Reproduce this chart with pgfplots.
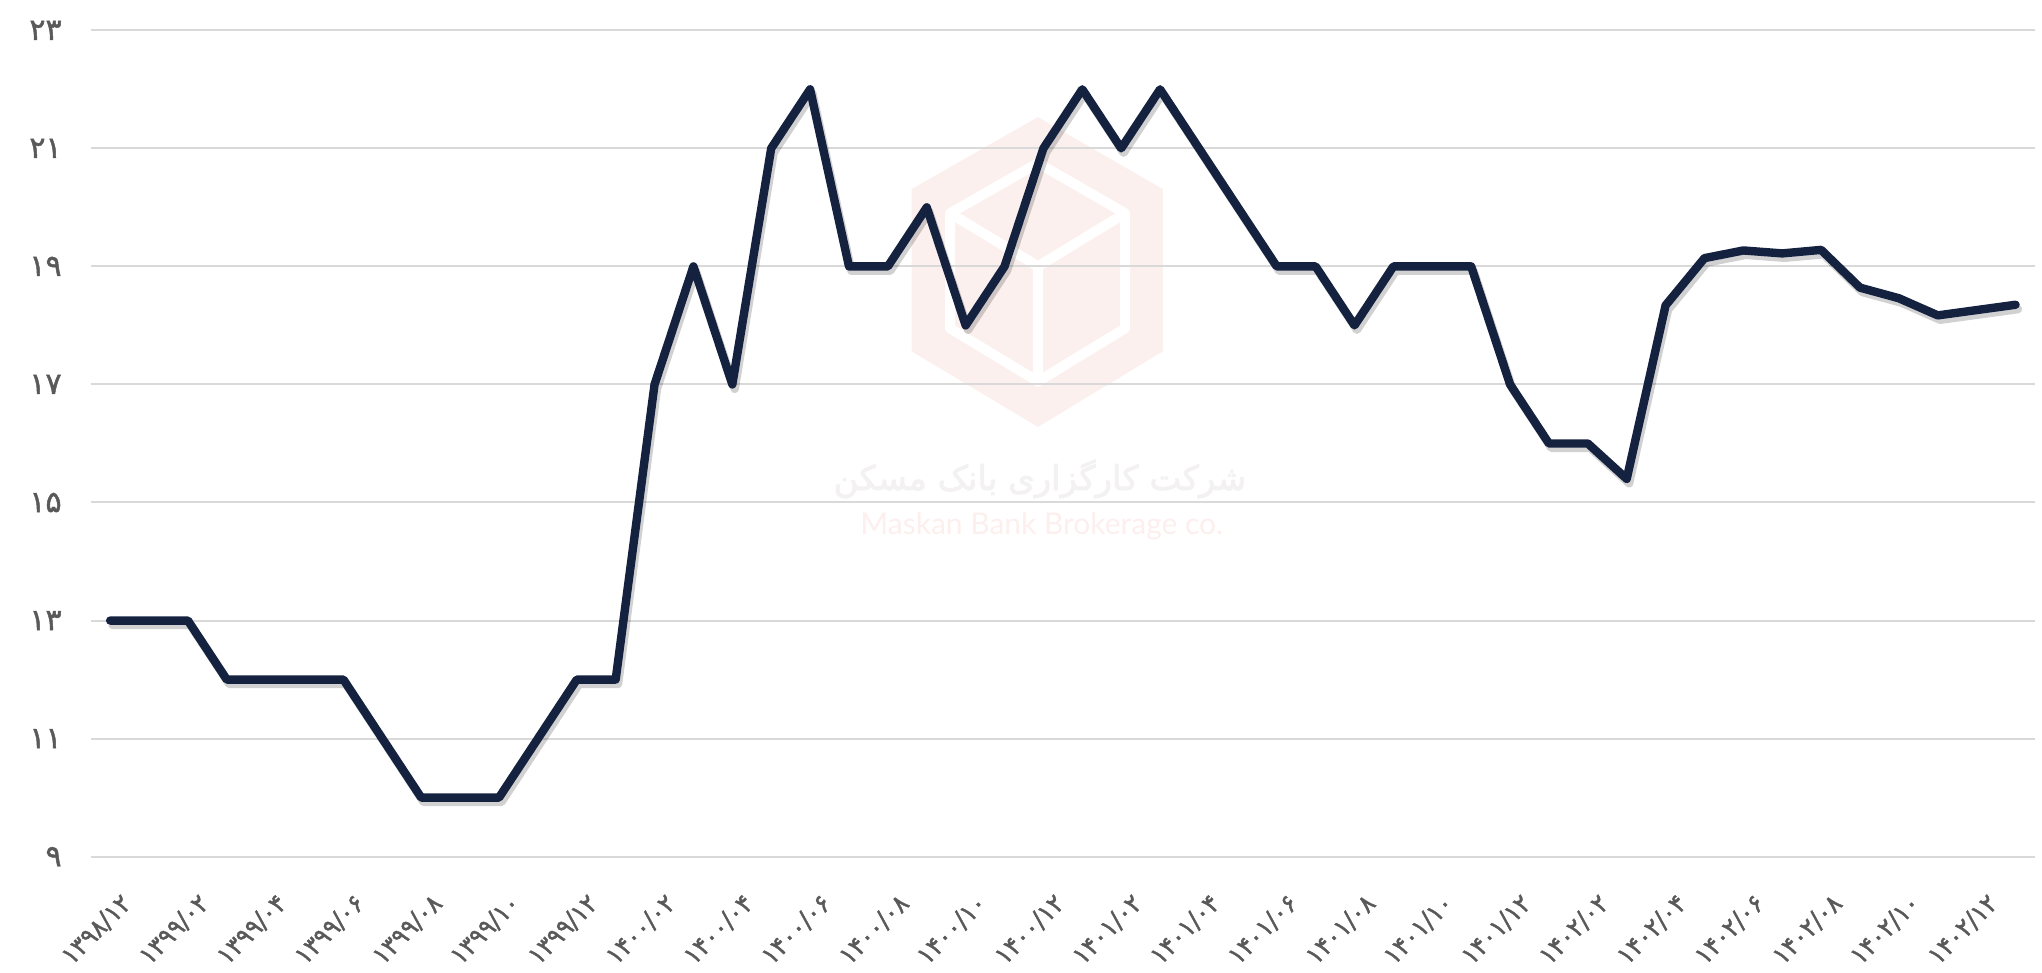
\documentclass[border=0pt]{standalone}
\usepackage{fontspec}
\usepackage{graphicx}
\usepackage{pgfplots}
\usepackage{pgfplotstable}
\pgfplotsset{compat=1.18}
\TeXXeTstate=1
\newfontfamily\fab[Script=Arabic,FakeBold=1.6]{DejaVu Sans}
\newfontfamily\wmfa[Script=Arabic,FakeBold=2.5]{DejaVu Sans}
\newfontfamily\wmen{Lato}
\newcommand{\xl}[1]{\resizebox*{43pt}{10.5pt}{\fab #1}}
\definecolor{linec}{RGB}{21,34,63}
\definecolor{labc}{RGB}{89,89,89}
\definecolor{gridc}{RGB}{217,217,217}
\definecolor{logoc}{RGB}{251,240,238}
\definecolor{wmfac}{RGB}{243,241,241}
\definecolor{wmenc}{RGB}{252,239,237}

\pgfplotstableread{
x y
0 13
1 13
2 13
3 12
4 12
5 12
6 12
7 11
8 10
9 10
10 10
11 11
12 12
13 12
14 17
15 19
16 17
17 21
18 22
19 19
20 19
21 20
22 18
23 19
24 21
25 22
26 21
27 22
28 21
29 20
30 19
31 19
32 18
33 19
34 19
35 19
36 17
37 16
38 16
39 15.4
40 18.34
41 19.14
42 19.27
43 19.22
44 19.28
45 18.64
46 18.46
47 18.17
48 18.26
49 18.35
}\data

\begin{document}
\begin{tikzpicture}
\begin{axis}[name=ax, set layers,
  scale only axis, width=972.2pt, height=413.2pt,
  xmin=-0.5, xmax=49.5, ymin=9, ymax=23,
  axis line style={draw=none}, tick style={draw=none},
  ymajorgrids, major grid style={gridc, line width=1pt},
  ytick={9,11,...,23},
  yticklabels={۹,۱۱,۱۳,۱۵,۱۷,۱۹,۲۱,۲۳},
  xtick={0,2,...,48},
  xticklabels={\xl{۱۳۹۸/۱۲},\xl{۱۳۹۹/۰۲},\xl{۱۳۹۹/۰۴},\xl{۱۳۹۹/۰۶},\xl{۱۳۹۹/۰۸},\xl{۱۳۹۹/۱۰},\xl{۱۳۹۹/۱۲},\xl{۱۴۰۰/۰۲},\xl{۱۴۰۰/۰۴},\xl{۱۴۰۰/۰۶},\xl{۱۴۰۰/۰۸},\xl{۱۴۰۰/۱۰},\xl{۱۴۰۰/۱۲},\xl{۱۴۰۱/۰۲},\xl{۱۴۰۱/۰۴},\xl{۱۴۰۱/۰۶},\xl{۱۴۰۱/۰۸},\xl{۱۴۰۱/۱۰},\xl{۱۴۰۱/۱۲},\xl{۱۴۰۲/۰۲},\xl{۱۴۰۲/۰۴},\xl{۱۴۰۲/۰۶},\xl{۱۴۰۲/۰۸},\xl{۱۴۰۲/۱۰},\xl{۱۴۰۲/۱۲}},
  xticklabel style={text=labc, rotate=45, anchor=north east, inner sep=0pt, yshift=-15.6pt, xshift=-9pt},
  yticklabel style={font=\fab\fontsize{15}{15}\selectfont, text=labc, anchor=east, xshift=-11pt},
]
\begin{pgfonlayer}{axis background}
  \fill[logoc] (axis cs:23.86,21.53) -- (axis cs:27.07,20.31) -- (axis cs:27.07,17.56)
     -- (axis cs:23.86,16.28) -- (axis cs:20.61,17.56) -- (axis cs:20.61,20.31) -- cycle;
  \draw[white, line width=5pt, line join=round] (axis cs:23.86,20.75) -- (axis cs:26.1,19.9) -- (axis cs:26.1,17.95)
     -- (axis cs:23.86,17.05) -- (axis cs:21.6,17.95) -- (axis cs:21.6,19.9) -- cycle;
  \draw[white, line width=5pt, line join=round] (axis cs:21.6,19.9) -- (axis cs:23.86,19.0) -- (axis cs:26.1,19.9)
     (axis cs:23.86,19.0) -- (axis cs:23.86,17.05);
  \node[text=wmfac, font=\wmfa\fontsize{17}{17}\selectfont] at (axis cs:23.91,15.4) {\beginR شرکت کارگزاری بانک مسکن\endR};
  \node[text=wmenc, font=\wmen\fontsize{15}{15}\selectfont] at (axis cs:23.96,14.60) {Maskan Bank Brokerage co.};
\end{pgfonlayer}
\addplot[black, opacity=0.18, line width=4.2pt, line join=round, line cap=round, xshift=1.2pt, yshift=-2.2pt, forget plot] table[x=x,y=y] {\data};
\addplot[linec, line width=4.2pt, line join=round, line cap=round] table[x=x,y=y] {\data};
\end{axis}
\pgfresetboundingbox
\path ([xshift=-45.35pt,yshift=-58.15pt]ax.south west) rectangle ([xshift=3.5pt,yshift=15.15pt]ax.north east);
\end{tikzpicture}
\end{document}
